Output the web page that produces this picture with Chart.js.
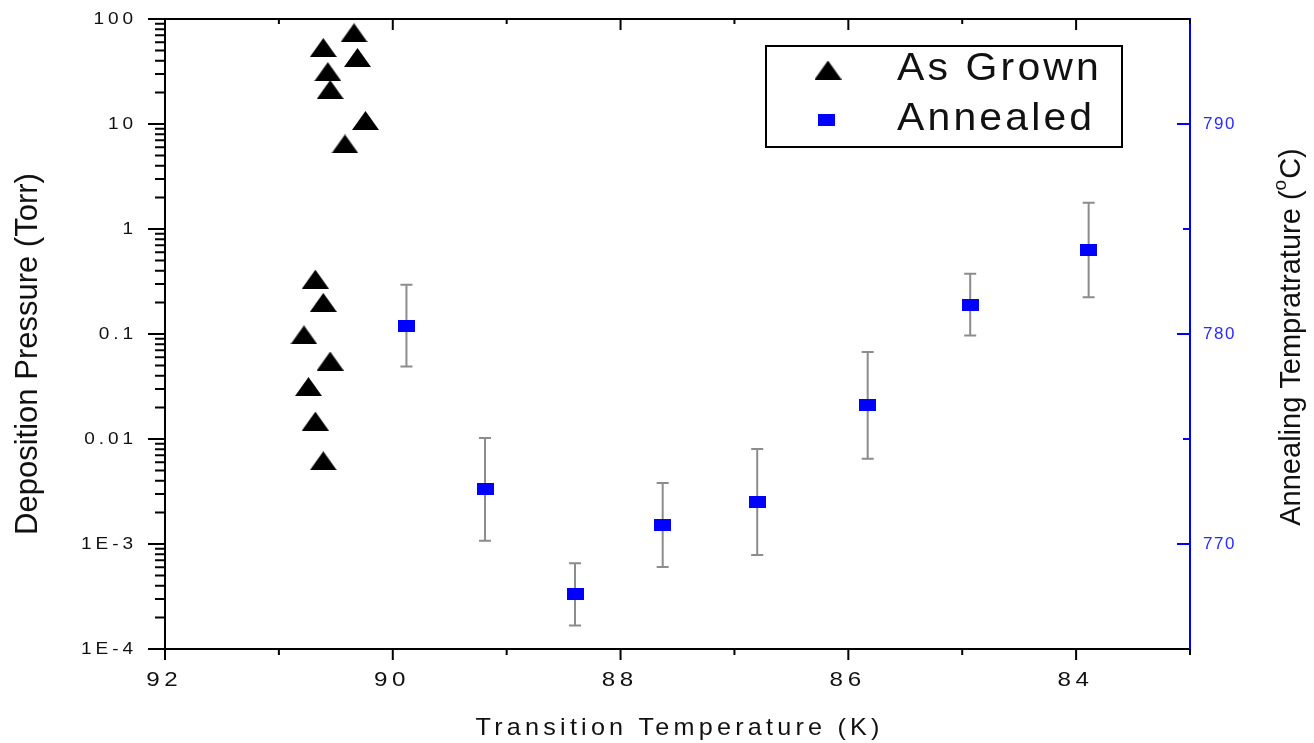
<!DOCTYPE html>
<html>
<head>
<meta charset="utf-8">
<script src="https://cdn.jsdelivr.net/npm/chart.js@4"></script>
<style>
  html, body { margin: 0; background: #fff; }
</style>
</head>
<body>
<canvas id="myChart" width="1314" height="743"></canvas>
<script>
// transition temperature (K) vs deposition pressure (Torr), as-grown films
const asGrownTc = [90.34, 90.61, 90.31, 90.57, 90.55, 90.24, 90.42, 90.68, 90.61, 90.78, 90.55, 90.74, 90.68, 90.61];
const asGrownPressure = [74, 53.5, 43, 31.5, 21.3, 10.8, 6.45, 0.333, 0.2, 0.098, 0.0553, 0.0316, 0.0148, 0.0062];

// annealed films: Tc vs annealing temperature (C), with error
const annealedTc = [89.88, 89.19, 88.40, 87.63, 86.80, 85.83, 84.93, 83.89];
const annealedTemp = [780.4, 772.6, 767.6, 770.9, 772.0, 776.6, 781.4, 784.0];
const annealedErr = [1.95, 2.45, 1.48, 2.0, 2.52, 2.54, 1.47, 2.25];

// axis ticks
const tcTicks = [92, 90, 88, 86, 84];
const tcMinorTicks = [91, 89, 87, 85, 83];
const pressureTicks = [100, 10, 1, 0.1, 0.01, 1e-3, 1e-4];
const pressureLabels = ['100', '10', '1', '0.1', '0.01', '1E-3', '1E-4'];
const annealTicks = [790, 780, 770];
const annealMinorTicks = [785, 775];

const FONT = '"Liberation Sans", Arial, sans-serif';
const BLUE = '#0000ff';
const INK = '#111';

function triangleMarker(w, h, color) {
  const c = document.createElement('canvas');
  c.width = w; c.height = h;
  const g = c.getContext('2d');
  g.fillStyle = color;
  g.beginPath();
  g.moveTo(w / 2, 0);
  g.lineTo(w, h);
  g.lineTo(0, h);
  g.closePath();
  g.fill();
  return c;
}

function rectMarker(w, h, color) {
  const c = document.createElement('canvas');
  c.width = w; c.height = h;
  const g = c.getContext('2d');
  g.fillStyle = color;
  g.fillRect(0, 0, w, h);
  return c;
}

const triangle = triangleMarker(27, 19, '#000');
const square = rectMarker(17, 12, BLUE);

// text with extra letter spacing and a little horizontal stretch
function spacedText(ctx, text, x, y, size, spacing, align, color, stretch) {
  const sx = stretch || 1;
  ctx.save();
  ctx.font = size + 'px ' + FONT;
  ctx.letterSpacing = '0px';
  const w = (ctx.measureText(text).width + spacing * (text.length - 1)) * sx;
  let left = x;
  if (align === 'center') left = x - w / 2;
  if (align === 'right') left = x - w;
  ctx.translate(left, y);
  ctx.scale(sx, 1);
  ctx.letterSpacing = spacing + 'px';
  ctx.fillStyle = color;
  ctx.textAlign = 'left';
  ctx.textBaseline = 'middle';
  ctx.fillText(text, 0, 0);
  ctx.restore();
}

const errorBars = {
  id: 'errorBars',
  beforeDatasetsDraw(chart) {
    const ctx = chart.ctx;
    const xs = chart.scales.x, ys = chart.scales.y2;
    ctx.save();
    ctx.strokeStyle = '#8c8c8c';
    ctx.lineWidth = 2;
    annealedTc.forEach((t, i) => {
      const x = xs.getPixelForValue(t);
      const top = ys.getPixelForValue(annealedTemp[i] + annealedErr[i]);
      const bot = ys.getPixelForValue(annealedTemp[i] - annealedErr[i]);
      ctx.beginPath();
      ctx.moveTo(x, top); ctx.lineTo(x, bot);
      ctx.moveTo(x - 6, top); ctx.lineTo(x + 6, top);
      ctx.moveTo(x - 6, bot); ctx.lineTo(x + 6, bot);
      ctx.stroke();
    });
    ctx.restore();
  }
};

const axisDecor = {
  id: 'axisDecor',
  afterDraw(chart) {
    const ctx = chart.ctx;
    const area = chart.chartArea;
    const xs = chart.scales.x, ys = chart.scales.y, ys2 = chart.scales.y2;
    ctx.save();
    ctx.lineWidth = 2;
    ctx.strokeStyle = '#000';

    // top frame line
    ctx.beginPath();
    ctx.moveTo(area.left, area.top);
    ctx.lineTo(area.right, area.top);
    ctx.stroke();

    // x ticks: outward on the bottom, inward on the top
    ctx.beginPath();
    tcTicks.forEach(v => {
      const x = xs.getPixelForValue(v);
      ctx.moveTo(x, area.bottom); ctx.lineTo(x, area.bottom + 11);
      ctx.moveTo(x, area.top); ctx.lineTo(x, area.top + 11);
    });
    tcMinorTicks.forEach(v => {
      const x = xs.getPixelForValue(v);
      ctx.moveTo(x, area.bottom); ctx.lineTo(x, area.bottom + 6);
      ctx.moveTo(x, area.top); ctx.lineTo(x, area.top + 5);
    });

    // log ticks on the pressure axis
    pressureTicks.forEach(v => {
      const y = ys.getPixelForValue(v);
      ctx.moveTo(area.left - 17, y); ctx.lineTo(area.left, y);
      if (v < 100) {
        for (let k = 2; k <= 9; k++) {
          const ym = ys.getPixelForValue(v * k);
          ctx.moveTo(area.left - 10, ym); ctx.lineTo(area.left, ym);
        }
      }
    });
    ctx.stroke();

    // annealing temperature ticks point into the plot
    ctx.strokeStyle = BLUE;
    ctx.beginPath();
    annealTicks.forEach(v => {
      const y = ys2.getPixelForValue(v);
      ctx.moveTo(area.right - 13, y); ctx.lineTo(area.right, y);
    });
    annealMinorTicks.forEach(v => {
      const y = ys2.getPixelForValue(v);
      ctx.moveTo(area.right - 7, y); ctx.lineTo(area.right, y);
    });
    ctx.stroke();
    ctx.restore();

    // tick labels
    tcTicks.forEach(v => spacedText(ctx, String(v), xs.getPixelForValue(v) - 3, area.bottom + 31, 21, 4, 'center', INK, 1.15));
    pressureTicks.forEach((v, i) => spacedText(ctx, pressureLabels[i], area.left - 32, ys.getPixelForValue(v), 17, 3.5, 'right', INK, 1.12));
    annealTicks.forEach(v => spacedText(ctx, String(v), area.right + 13, ys2.getPixelForValue(v), 17, 1.5, 'left', '#2a2aff'));

    // axis titles
    spacedText(ctx, 'Transition Temperature (K)', (area.left + area.right) / 2, 728, 24, 4, 'center', INK, 1.05);

    ctx.save();
    ctx.translate(28, 354);
    ctx.rotate(-Math.PI / 2);
    ctx.font = '31px ' + FONT;
    ctx.fillStyle = INK;
    ctx.textAlign = 'center';
    ctx.textBaseline = 'middle';
    ctx.fillText('Deposition Pressure (Torr)', 0, 0);
    ctx.restore();

    ctx.save();
    ctx.translate(1290, 337);
    ctx.rotate(-Math.PI / 2);
    ctx.fillStyle = INK;
    ctx.textBaseline = 'alphabetic';
    ctx.textAlign = 'left';
    const mainFont = '29px ' + FONT, supFont = '19px ' + FONT;
    const partA = 'Annealing Tempratrature (', partB = 'o', partC = 'C)';
    ctx.font = mainFont;
    const wA = ctx.measureText(partA).width, wC = ctx.measureText(partC).width;
    ctx.font = supFont;
    const wB = ctx.measureText(partB).width + 1;
    let x0 = -(wA + wB + wC) / 2;
    ctx.font = mainFont;
    ctx.fillText(partA, x0, 10);
    ctx.font = supFont;
    ctx.fillText(partB, x0 + wA, -4);
    ctx.font = mainFont;
    ctx.fillText(partC, x0 + wA + wB, 10);
    ctx.restore();

    // legend box
    ctx.save();
    ctx.strokeStyle = '#000';
    ctx.lineWidth = 2;
    ctx.strokeRect(766, 46, 356, 101);
    const marks = [triangle, square];
    const rows = [[828, 70], [826, 120]];
    chart.data.datasets.forEach((ds, i) => {
      const [mx, my] = rows[i];
      ctx.drawImage(marks[i], mx - marks[i].width / 2, my - marks[i].height / 2);
      spacedText(ctx, ds.label, 897, my - 1, 39, 3, 'left', INK, 1.05);
    });
    ctx.restore();
  }
};

const data = {
  datasets: [{
    label: 'As Grown',
    data: asGrownTc.map((t, i) => ({ x: t, y: asGrownPressure[i] })),
    yAxisID: 'y',
    pointStyle: triangle,
    backgroundColor: '#000',
    borderColor: '#000',
    showLine: false
  }, {
    label: 'Annealed',
    data: annealedTc.map((t, i) => ({ x: t, y: annealedTemp[i] })),
    yAxisID: 'y2',
    pointStyle: square,
    backgroundColor: BLUE,
    borderColor: BLUE,
    showLine: false
  }]
};

const config = {
  type: 'scatter',
  data: data,
  plugins: [errorBars, axisDecor],
  options: {
    responsive: false,
    animation: false,
    devicePixelRatio: 1,
    layout: { padding: { top: 19, left: 0, right: 0, bottom: 0 } },
    plugins: {
      legend: { display: false },
      tooltip: { enabled: false }
    },
    scales: {
      x: {
        type: 'linear',
        position: 'bottom',
        min: 83,
        max: 92,
        reverse: true,
        grid: { display: false },
        border: { display: true, color: '#000', width: 2 },
        ticks: { display: false },
        afterFit: s => { s.height = 94; }
      },
      y: {
        type: 'logarithmic',
        position: 'left',
        min: 1e-4,
        max: 100,
        grid: { display: false },
        border: { display: true, color: '#000', width: 2 },
        ticks: { display: false },
        afterFit: s => { s.width = 165; }
      },
      y2: {
        type: 'linear',
        position: 'right',
        min: 765,
        max: 795,
        grid: { display: false },
        border: { display: true, color: BLUE, width: 2 },
        ticks: { display: false },
        afterFit: s => { s.width = 124; }
      }
    }
  }
};

const myChart = new Chart(document.getElementById('myChart'), config);
</script>
</body>
</html>
